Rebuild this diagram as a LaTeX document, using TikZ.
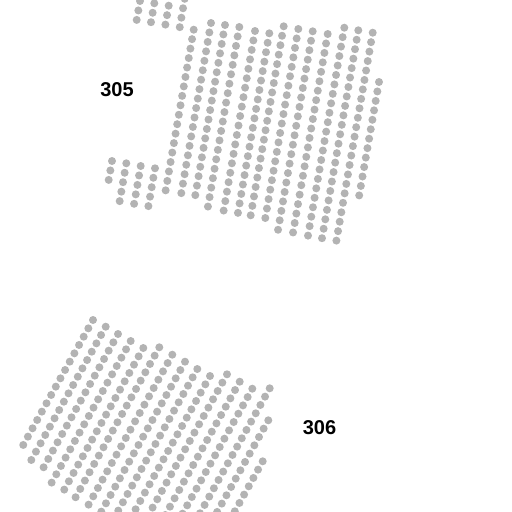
\documentclass[tikz,border=0pt]{standalone}
\usepackage{fontspec}
\setmainfont{Liberation Sans}
\definecolor{padgray}{RGB}{179,179,179}
\tikzset{
    pad/.style={fill=padgray,draw=none},
    reflabel/.style={font=\fontsize{20}{20}\selectfont\bfseries,text=black,inner sep=0pt}
}
\begin{document}
\begin{tikzpicture}[x=1pt,y=-1pt]
    \useasboundingbox (0,0) rectangle (512,512);
    \clip (0,0) rectangle (512,512);

    % upper array, columns as head x / head y / last index
    \foreach \hx/\hy/\n in {193.7/29.7/17,211/23/18,225/25/18,239.3/27/19,255/31/19,269.3/33.3/19,283.7/26.3/20,298.3/29/20,312.7/31.3/21,327.7/34/21,344.3/27.7/22,358.3/30.3/22,372.7/32.7/22,379/82/12,
                            140/1/2,154.3/3.3/2,168.7/5.7/2,184.7/-1.2/3}
        \foreach \k in {0,...,\n}
            \fill[pad] (\hx-1.65*\k,\hy+9.45*\k) circle[radius=4pt];
    % small block on the left
    \foreach \hx/\hy/\n in {112/161/2,126.3/163.3/4,140.7/166/4,155/168.3/4}
        \foreach \k in {0,...,\n}
            \fill[pad] (\hx-1.65*\k,\hy+9.45*\k) circle[radius=4pt];

    % lower array
    \foreach \hx/\hy/\n in {93/320/15,105.7/326.7/16,118/334/16,130.7/341/17,143.3/348/17,159.3/347.3/18,172.3/354.7/18,185/361.7/18,197.3/369/17,210/376/17,227/374.3/17,239.7/381.7/16,252.3/388.7/15,269.7/388.3/15,268.3/420.3/11,262.7/461.3/6}
        \foreach \k in {0,...,\n}
            \fill[pad] (\hx-4.65*\k,\hy+8.33*\k) circle[radius=4pt];

    \node[reflabel] (lab305) at (117,90) {305};
    \node[reflabel] (lab306) at (319.5,427.5) {306};
\end{tikzpicture}
\end{document}
